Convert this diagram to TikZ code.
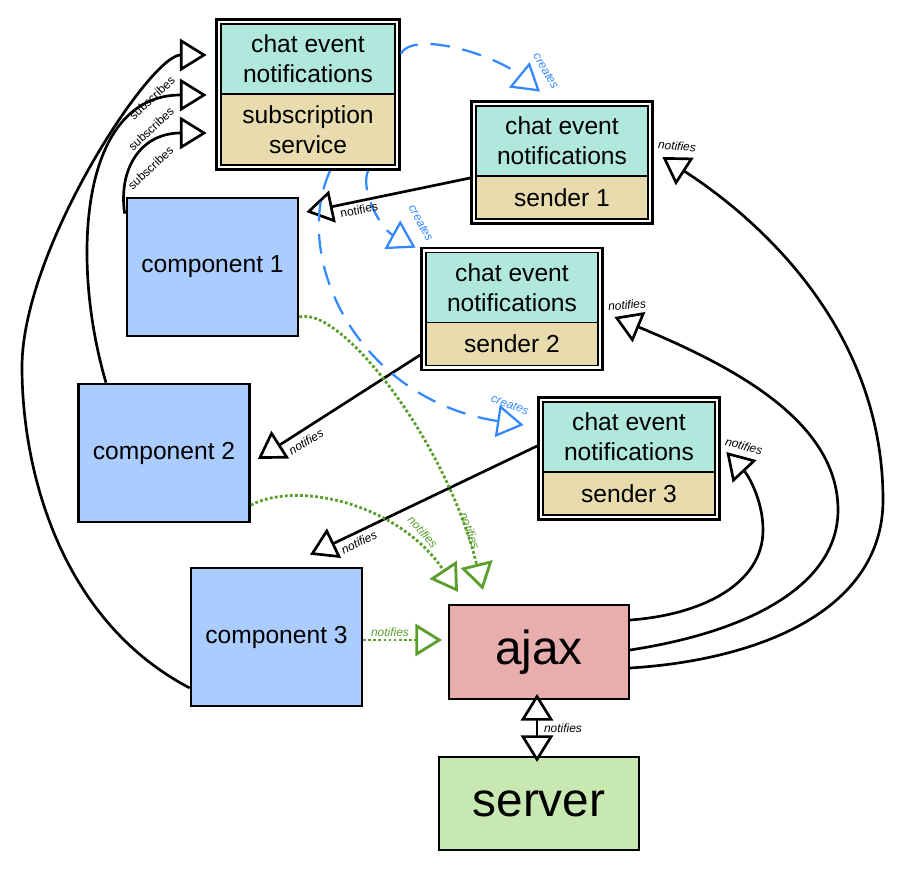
\documentclass[tikz,border=0pt]{standalone}
\usepackage{fontspec}
\setmainfont{Liberation Sans}
\usetikzlibrary{arrows.meta, positioning, calc, fit}

\definecolor{chatcol}{RGB}{176,232,222}
\definecolor{partcol}{RGB}{232,219,174}
\definecolor{compcol}{RGB}{170,204,255}
\definecolor{ajaxcol}{RGB}{232,174,174}
\definecolor{servcol}{RGB}{199,232,176}
\definecolor{crtcol}{RGB}{51,136,255}
\definecolor{ntfcol}{RGB}{90,158,46}

\tikzset{
  chat/.style={rectangle,draw,fill=chatcol,line width=1.2pt,outer sep=0pt,minimum width=4.3cm,minimum height=1.75cm,align=center,font=\fontsize{17.5}{21.5}\selectfont},
  tanpart/.style={rectangle,draw,fill=partcol,line width=1.2pt,outer sep=0pt,minimum width=4.3cm,minimum height=1.075cm,align=center,font=\fontsize{17.5}{21.5}\selectfont},
  outerbox/.style={rectangle,draw,line width=1.9pt,inner sep=3.2pt},
  comp/.style={rectangle,draw,fill=compcol,line width=1.8pt,minimum width=4.275cm,minimum height=3.45cm,font=\fontsize{17.5}{21}\selectfont},
  big/.style={rectangle,draw,line width=1.4pt,font=\fontsize{34}{40}\selectfont},
  con/.style={line width=1.9pt,->},
  crt/.style={crtcol,line width=1.6pt,dash pattern=on 14pt off 9pt,->},
  ntf/.style={ntfcol,line width=2pt,dash pattern=on 2pt off 1.6pt,->},
  lbl/.style={font=\fontsize{8.5}{9}\selectfont,inner sep=0pt},
  ilbl/.style={font=\fontsize{8.5}{9}\selectfont\itshape,inner sep=0pt},
}

\begin{document}
\begin{tikzpicture}[x=0.025cm,y=-0.025cm,>={Triangle[length=19pt,width=23pt,fill=white]}]
		\useasboundingbox (0,0) rectangle (904,872);

		\node(1a) at (308,59)[chat,minimum width=4.35cm]{chat event\\notifications};
		\node(1b)[tanpart,below=0pt of 1a,minimum width=4.35cm,minimum height=1.775cm]{subscription\\service};
		\node(1)[outerbox,fit=(1a)(1b)]{};

		\node(2a) at (562,141)[chat]{chat event\\notifications};
		\node(2b)[tanpart,below=0pt of 2a]{sender 1};
		\node(2)[outerbox,fit=(2a)(2b)]{};

		\node(3a) at (512,287.5)[chat]{chat event\\notifications};
		\node(3b)[tanpart,below=0pt of 3a]{sender 2};
		\node(3)[outerbox,fit=(3a)(3b)]{};

		\node(4a) at (629,437)[chat]{chat event\\notifications};
		\node(4b)[tanpart,below=0pt of 4a]{sender 3};
		\node(4)[outerbox,fit=(4a)(4b)]{};

		\node(5) at (212.5,267)[comp]{component 1};
		\node(6) at (164,453)[comp]{component 2};
		\node(7) at (276.5,637)[comp]{component 3};
		\node(8) at (539,652)[big,fill=ajaxcol,minimum width=4.5cm,minimum height=2.35cm]{ajax};
		\node(9) at (539,803.5)[big,fill=servcol,minimum width=5cm,minimum height=2.325cm]{server};

		\draw[con] ($(7.west)+(0,51)$) .. controls (60,620) and (22,470) .. (22,367) .. controls (22,250) and (150,55) .. ($(1.west)+(-8.5,-39.5)$);
		\draw[con] ($(6.north)+(-58,0)$) .. controls (70,260) and (80,95) .. ($(1.west)+(-8.5,0.5)$);
		\draw[con] ($(5.north west)+(-1,17)$) .. controls (118,170) and (140,133) .. ($(1.west)+(-8.5,38.5)$);

		\draw[con] ($(2.west)+(0,15.5)$) -- ($(5.east)+(7,-55)$);
		\draw[con] ($(3.west)+(0,46)$) -- ($(6.east)+(7,6)$);
		\draw[con] ($(4.west)+(0,-12.5)$) -- ($(7.north)+(33.5,-12)$);

		\draw[crt] ($(1.east)+(0,-41)$) .. controls (415,30) and (495,55) .. ($(2.north)+(-22,-8.5)$);
		\draw[crt] ($(1.south)+(60,0)$) .. controls (360,190) and (380,228) .. ($(3.north west)+(-4.5,1)$);
		\draw[crt] ($(1.south)+(22,0)$) .. controls (290,260) and (360,400) .. ($(4.west)+(-13.5,-33.5)$);

		\draw[ntf] ($(5.east)+(0,50)$) .. controls (340,305) and (446,440) .. ($(8.north)+(-56,-14)$);
		\draw[ntf] ($(6.east)+(0,52)$) .. controls (300,480) and (400,505) .. ($(8.north)+(-81,-12)$);
		\draw[ntf] ($(7.east)+(0,3)$) -- ($(8.west)+(-6,-12)$);

		\draw[con] ($(8.east)+(0,-32)$) .. controls (700,615) and (763,585) .. (763,530) .. controls (763,500) and (748,475) .. ($(4.east)+(5.5,-6.5)$);
		\draw[con] ($(8.east)+(0,-2)$) .. controls (760,630) and (838,580) .. (838,510) .. controls (838,420) and (730,365) .. ($(3.east)+(10.5,8)$);
		\draw[con] ($(8.east)+(0,16)$) .. controls (760,660) and (883,610) .. (883,500) .. controls (883,330) and (760,220) .. ($(2.east)+(8.5,-5.5)$);
		\draw[con,<->] ($(8.south)+(-2,-6)$) -- ($(9.north)+(-2,6)$);

		\node(l1) at (152,98)[lbl,rotate=43]{subscribes};
		\node(l2) at (151,129)[lbl,rotate=43]{subscribes};
		\node(l3) at (150.5,168)[lbl,rotate=43]{subscribes};
		\node(l4) at (359,210)[lbl,rotate=11]{notifies};
		\node(l5) at (306,442)[ilbl,rotate=31]{notifies};
		\node(l6) at (359,542)[ilbl,rotate=26]{notifies};
		\node(l7) at (546,71)[ilbl,crtcol,rotate=-60]{creates};
		\node(l8) at (421,223)[ilbl,crtcol,rotate=-62]{creates};
		\node(l9) at (510,405)[ilbl,crtcol,rotate=-20]{creates};
		\node(l10) at (470,531)[ilbl,ntfcol,rotate=-70]{notifies};
		\node(l11) at (423,532)[ilbl,ntfcol,rotate=-48]{notifies};
		\node(l12) at (390,632)[ilbl,ntfcol]{notifies};
		\node(l13) at (744,446)[ilbl,rotate=-15]{notifies};
		\node(l14) at (627,305)[ilbl,rotate=5]{notifies};
		\node(l15) at (677,146)[ilbl,rotate=-5]{notifies};
		\node(l16) at (563,728)[ilbl]{notifies};
	\end{tikzpicture}
\end{document}
